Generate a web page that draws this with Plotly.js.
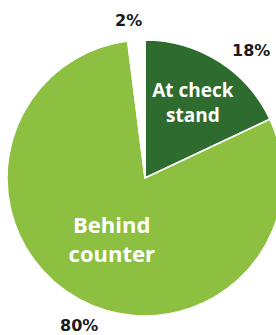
<!DOCTYPE html>
<html><head><meta charset="utf-8">
<script src="https://cdn.plot.ly/plotly-3.0.1.min.js"></script>
<style>html,body{margin:0;padding:0;overflow:hidden;background:#fff;width:276px;height:335px}</style>
</head><body>
<div id="chart" style="width:290px;height:335px"></div>
<script>
const categories = ["At check<br>stand", "Behind<br>counter", ""];
const values = [18, 80, 2];
const pctLabels = ["18%", "80%", "2%"];
const colors = ["#2e6b2f", "#8dc040", "#ffffff"];

const pctPos = [[0.884, 0.962], [0.261, -0.033], [0.442, 1.072]];

Plotly.newPlot("chart", [{
  type: "pie", values: values, labels: categories, sort: false,
  direction: "clockwise", rotation: 0,
  domain: {x: [0, 1], y: [0, 1]}, hoverinfo: "none", showlegend: false,
  marker: {colors: colors, line: {color: "#ffffff", width: 1.5}},
  texttemplate: "%{label}",
  textposition: "inside",
  insidetextorientation: "horizontal",
  insidetextfont: {family: "Open Sans", size: [20, 22, 10], color: "#ffffff", weight: "bold"}
}], {
  width: 290, height: 335,
  margin: {l: 7, r: 7, t: 40, b: 19},
  paper_bgcolor: "#ffffff",
  showlegend: false,
  annotations: pctLabels.map((t, i) => ({
    text: t, xref: "paper", yref: "paper", x: pctPos[i][0], y: pctPos[i][1],
    xanchor: "center", yanchor: "middle", showarrow: false,
    font: {family: "DejaVu Sans", size: 16, color: "#1a1a1a", weight: "bold"}
  }))
}, {staticPlot: true, displayModeBar: false});
</script>
</body></html>
